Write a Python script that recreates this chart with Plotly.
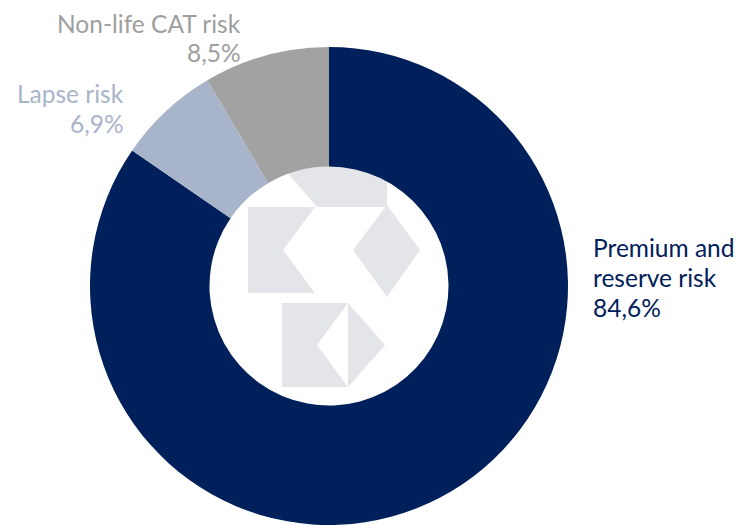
import plotly.graph_objects as go

# ---- data ----
labels = ["Premium and reserve risk", "Lapse risk", "Non-life CAT risk"]
values = [84.6, 6.9, 8.5]
value_text = ["84,6%", "6,9%", "8,5%"]
label_lines = [["Premium and", "reserve risk"], ["Lapse risk"], ["Non-life CAT risk"]]
colors = ["#00205B", "#A8B4C9", "#A2A2A2"]
label_colors = ["#00205B", "#A8B4C9", "#9E9E9E"]

W, H = 738, 525


def px(x, y):
    return x / W, 1 - y / H


def path(points):
    pts = [px(x, y) for x, y in points]
    return "M " + " L ".join(f"{a:.5f},{b:.5f}" for a, b in pts) + " Z"


fig = go.Figure()
fig.add_trace(go.Pie(
    labels=labels,
    values=values,
    sort=False,
    direction="clockwise",
    rotation=0,
    hole=0.5,
    textinfo="none",
    marker=dict(colors=colors, line=dict(width=0)),
    domain=dict(x=[89 / W, 569 / W], y=[0, 478 / H]),
    showlegend=False,
))

# watermark logo in the hole (decoration)
wm = "#E4E5E9"
polys = [
    [(268, 150), (317, 207), (387, 207), (387, 150)],
    [(248, 207), (315, 207), (283, 250), (315, 293), (248, 293)],
    [(353, 250), (387, 205), (420, 250), (387, 297)],
    [(282, 303), (348, 303), (317, 345), (348, 387), (282, 387)],
    [(348, 303), (385, 345), (348, 387)],
    [(276, 392), (290, 410), (270, 410)],
]
shapes = [dict(type="path", xref="paper", yref="paper", path=path(p),
               fillcolor=wm, line=dict(width=0), layer="below") for p in polys]

font_family = "Lato"
fs = 24.5
# label blocks: (lines, anchor x, xanchor, first-line cap-middle y, colour)
blocks = [
    (label_lines[0] + [value_text[0]], 591, "left", 247, label_colors[0]),
    (label_lines[1] + [value_text[1]], 126, "right", 93, label_colors[1]),
    (label_lines[2] + [value_text[2]], 243, "right", 22, label_colors[2]),
]
line_gap = 29.5
annotations = []
for lines, ax, xa, y0, col in blocks:
    for i, t in enumerate(lines):
        yy = y0 + i * line_gap + 1
        annotations.append(dict(
            text=t, x=ax / W, y=1 - yy / H, xref="paper", yref="paper",
            xanchor=xa, yanchor="middle", showarrow=False,
            font=dict(family=font_family, size=fs, color=col)))

fig.update_layout(
    width=W, height=H,
    margin=dict(l=0, r=0, t=0, b=0),
    paper_bgcolor="white", plot_bgcolor="white",
    shapes=shapes,
    annotations=annotations,
)

fig.write_html("out.html", config={"displayModeBar": False},
               post_script="document.body.style.margin='0';")
